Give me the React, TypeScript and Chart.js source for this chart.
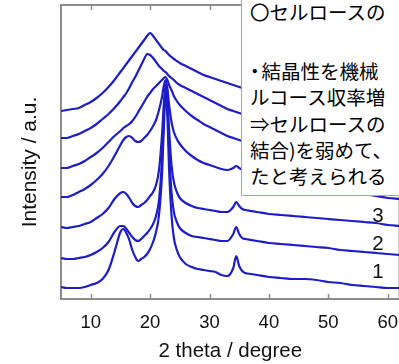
import React, { useEffect, useRef } from "react";
import { Chart, registerables } from "chart.js";

Chart.register(...registerables);

// 2θ positions (degree) shared by every pattern
const angles = [5, 6, 7, 8, 9, 10, 11, 12, 13, 14, 15, 15.5, 16, 16.5, 17, 17.5, 18, 18.5, 19, 19.5, 20, 20.5, 21, 21.5, 22, 22.3, 22.6, 22.9, 23.2, 23.6, 24, 24.5, 25, 26, 27, 28, 29, 30, 31, 32, 33, 34, 34.5, 35, 35.5, 36, 37, 38, 40, 42, 44, 46, 48, 50, 52, 54, 56, 58, 60, 62];

// stacked XRD intensities (a.u.), bottom pattern first
const pattern1 = [12, 11, 11, 11, 12, 14, 16, 20, 29, 47, 67, 70, 66, 59, 49, 42, 38, 40, 42, 45, 50, 57, 67, 84, 124, 169, 204, 184, 129, 84, 61, 49, 42, 35, 32, 30, 29, 28, 27, 24, 23, 31, 43, 33, 28, 26, 25, 24, 22, 21, 20, 20, 19, 17, 16, 14, 13, 12, 11, 11];
const pattern2 = [41, 40, 40, 41, 42, 44, 47, 51, 57, 67, 73, 73, 70, 66, 62, 59, 58, 60, 63, 66, 70, 75, 83, 99, 139, 181, 211, 194, 149, 107, 87, 77, 71, 66, 63, 62, 61, 60, 59, 58, 58, 65, 72, 65, 61, 60, 59, 58, 56, 55, 54, 53, 52, 51, 49, 48, 47, 46, 45, 44];
const pattern3 = [72, 71, 72, 73, 75, 77, 81, 85, 91, 100, 106, 107, 105, 101, 96, 93, 92, 94, 96, 99, 103, 107, 114, 129, 164, 194, 214, 201, 169, 134, 117, 107, 101, 96, 93, 91, 90, 89, 88, 87, 87, 92, 97, 93, 90, 89, 88, 87, 85, 84, 83, 82, 81, 80, 79, 78, 77, 76, 74, 73];
const pattern4 = [102, 102, 104, 107, 110, 114, 119, 125, 133, 143, 154, 159, 162, 163, 161, 158, 157, 158, 161, 164, 168, 173, 179, 189, 202, 213, 219, 211, 194, 177, 167, 160, 155, 148, 143, 139, 136, 134, 132, 130, 129, 131, 133, 131, 129, 128, 126, 124, 121, 119, 117, 115, 113, 111, 109, 107, 105, 103, 101, 100];
const pattern5 = [131, 131, 133, 135, 138, 142, 146, 151, 157, 163, 168, 171, 173, 175, 178, 182, 187, 192, 197, 202, 206, 210, 213, 216, 219, 221, 222, 219, 214, 209, 203, 198, 194, 188, 183, 179, 175, 172, 169, 166, 163, 161, 160, 159, 158, 157, 155, 153, 150, 147, 144, 141, 139, 137, 135, 133, 131, 129, 128, 127];
const pattern6 = [161, 161, 163, 165, 168, 171, 175, 180, 185, 191, 198, 202, 206, 211, 217, 222, 228, 234, 240, 245, 244, 241, 237, 233, 230, 228, 227, 225, 223, 221, 219, 216, 214, 211, 208, 205, 202, 199, 196, 193, 190, 188, 187, 186, 185, 184, 182, 180, 177, 174, 172, 170, 168, 166, 164, 162, 160, 158, 157, 156];
const pattern7 = [188, 189, 190, 191, 194, 197, 201, 206, 212, 219, 227, 231, 235, 239, 243, 247, 251, 255, 259, 263, 266, 263, 259, 255, 251, 249, 248, 246, 244, 242, 240, 238, 236, 233, 230, 227, 224, 222, 220, 218, 216, 214, 213, 212, 211, 210, 208, 207, 204, 201, 199, 197, 195, 193, 191, 189, 187, 185, 184, 183];

const xTicks = [10, 20, 30, 40, 50, 60];
const xTitle = "2 theta / degree";
const yTitle = "Intensity / a.u.";
const curveLabels = ["3", "2", "1"];
const noteLines = [
  "〇セルロースの",
  "・結晶性を機械",
  "ルコース収率増",
  "⇒セルロースの",
  "結合)を弱めて、",
  "たと考えられる",
];

const lineColor = "rgb(28,28,200)";
const axisColor = "#8c8c8c";

export default function App() {
  const ref = useRef<HTMLCanvasElement | null>(null);

  useEffect(() => {
    const series = [pattern1, pattern2, pattern3, pattern4, pattern5, pattern6, pattern7];
    const frame = {
      id: "frame",
      beforeDatasetsDraw(chart: any) {
        const { ctx, chartArea, scales } = chart;
        const { left, right, top, bottom } = chartArea;
        ctx.save();
        ctx.strokeStyle = axisColor;
        ctx.lineWidth = 2;
        ctx.strokeRect(left, top, right - left, bottom - top);
        ctx.beginPath();
        xTicks.forEach((v) => {
          const px = Math.round(scales.x.getPixelForValue(v)) + 0.5;
          ctx.moveTo(px, bottom);
          ctx.lineTo(px, bottom - 5);
          ctx.moveTo(px, top);
          ctx.lineTo(px, top + 5);
        });
        ctx.lineWidth = 1.5;
        ctx.stroke();
        ctx.restore();
      },
      afterDraw(chart: any) {
        const { ctx } = chart;
        ctx.save();
        ctx.fillStyle = "#111";
        ctx.font = '21px "Liberation Sans", Arial, sans-serif';
        ctx.textAlign = "center";
        ctx.textBaseline = "middle";
        ctx.translate(30, 162);
        ctx.rotate(-Math.PI / 2);
        ctx.fillText(yTitle, 0, 0);
        ctx.restore();
      },
    };

    const chart = new Chart(ref.current as HTMLCanvasElement, {
      type: "line",
      data: {
        datasets: series.map((s, k) => ({
          label: "pattern" + (k + 1),
          data: angles.map((a, i) => ({ x: a, y: s[i] })),
          borderColor: lineColor,
          borderWidth: 2.2,
          pointRadius: 0,
          fill: false,
          cubicInterpolationMode: "monotone" as const,
        })),
      },
      options: {
        animation: false,
        responsive: false,
        devicePixelRatio: 1,
        layout: { padding: { left: 61, top: 5, right: 0, bottom: 0 } },
        plugins: { legend: { display: false }, tooltip: { enabled: false } },
        scales: {
          x: {
            type: "linear",
            min: 5,
            max: 62,
            afterBuildTicks: (s: any) => {
              s.ticks = xTicks.map((v) => ({ value: v }));
            },
            afterFit: (s: any) => {
              s.height = 65;
            },
            grid: { display: false, drawTicks: false },
            border: { display: false },
            ticks: {
              autoSkip: false,
              maxRotation: 0,
              padding: 13,
              color: "#111",
              font: { family: '"Liberation Sans", Arial, sans-serif', size: 18.5 },
            },
            title: {
              display: true,
              text: xTitle,
              color: "#111",
              padding: { top: 0, bottom: 0 },
              font: { family: '"Liberation Sans", Arial, sans-serif', size: 20.5 },
            },
          },
          y: { display: false, min: 0, max: 294 },
        },
      },
      plugins: [frame],
    });
    return () => chart.destroy();
  }, []);

  const noteTops = [12, 71, 97, 124, 150, 176];
  const labelYs = [215, 243, 271];

  const renderNote = (t: string) => {
    if (t.startsWith("・")) {
      return (
        <>
          <span style={{ marginLeft: -5, letterSpacing: "-3px" }}>・</span>
          <span>{t.slice(1)}</span>
        </>
      );
    }
    return t;
  };

  return (
    <div
      style={{
        position: "fixed",
        left: 0,
        top: 0,
        width: 399,
        height: 364,
        overflow: "hidden",
        background: "#fff",
      }}
    >
      <canvas ref={ref} width={411} height={364} style={{ position: "absolute", left: 0, top: 0, width: 411, height: 364 }} />
      {curveLabels.map((t, i) => (
        <div
          key={t}
          style={{
            position: "absolute",
            left: 368,
            width: 20,
            top: labelYs[i] - 12,
            height: 24,
            lineHeight: "24px",
            textAlign: "center",
            fontFamily: '"Liberation Sans", Arial, sans-serif',
            fontSize: 20.5,
            color: "#111",
          }}
        >
          {t}
        </div>
      ))}
      <div
        style={{
          position: "absolute",
          left: 241,
          top: -3,
          width: 200,
          height: 199,
          boxSizing: "border-box",
          border: "1.5px solid #62cf92",
          background: "#fff",
        }}
      />
      {noteLines.map((t, i) => (
        <div
          key={i}
          style={{
            position: "absolute",
            left: 250,
            top: noteTops[i] - 13,
            height: 26,
            lineHeight: "26px",
            whiteSpace: "nowrap",
            fontFamily: '"Noto Sans CJK JP", sans-serif',
            fontSize: 19.5,
            color: "#000",
          }}
        >
          {renderNote(t)}
        </div>
      ))}
    </div>
  );
}
